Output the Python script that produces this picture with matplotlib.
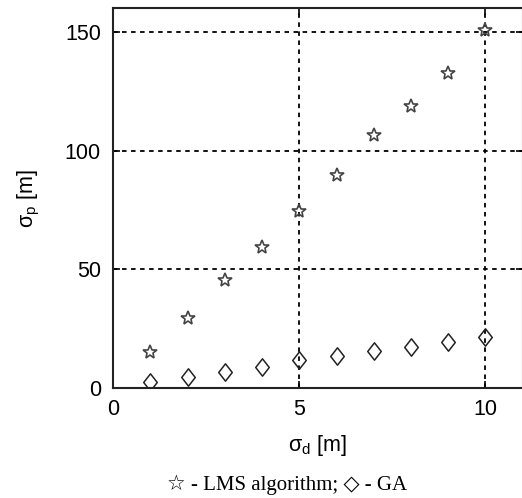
import matplotlib
matplotlib.use("Agg")
import matplotlib.pyplot as plt
from matplotlib.path import Path

sigma_d = [1, 2, 3, 4, 5, 6, 7, 8, 9, 10]
lms = [15.4, 29.5, 45.6, 59.4, 74.4, 89.6, 106.7, 118.9, 132.7, 150.9]
ga = [2.5, 4.9, 6.7, 9.1, 11.9, 13.6, 15.8, 17.5, 19.6, 21.7]
xticks = [0, 5, 10]
yticks = [0, 50, 100, 150]

plt.rcParams['mathtext.fontset'] = 'custom'
plt.rcParams['mathtext.rm'] = 'Liberation Sans'
plt.rcParams['mathtext.it'] = 'Liberation Sans'
plt.rcParams['font.family'] = ['Liberation Sans', 'DejaVu Sans']

fig = plt.figure(figsize=(5.22, 4.98), dpi=100)
ax = fig.add_axes([0.217, 0.2203, 0.784, 0.7636])

diamond = Path([(0, 1), (0.78, 0), (0, -1), (-0.78, 0), (0, 1)],
               [Path.MOVETO, Path.LINETO, Path.LINETO, Path.LINETO, Path.CLOSEPOLY])

ax.plot(sigma_d, lms, linestyle='none', marker='*', markersize=10,
        markerfacecolor='none', markeredgecolor='#444444', markeredgewidth=1.2, zorder=3)
ax.plot(sigma_d, ga, linestyle='none', marker=diamond, markersize=12.5,
        markerfacecolor='none', markeredgecolor='#222222', markeredgewidth=1.1, zorder=3)

ax.set_xlim(0, 11)
ax.set_ylim(0, 160)
ax.set_xticks(xticks)
ax.set_yticks(yticks)
ax.grid(True, color='black', linestyle=(0, (2.5, 2.5)), linewidth=1.3)
ax.tick_params(direction='in', length=5, width=1.2, labelsize=15.5, colors='black',
               top=True, right=True)
ax.tick_params(axis='y', pad=9)
ax.tick_params(axis='x', pad=8)
for s in ax.spines.values():
    s.set_linewidth(1.5)
    s.set_color('#222222')

ax.set_xlabel(r'$\mathregular{\sigma_d}$ [m]', fontsize=15.5, labelpad=9)
ax.set_ylabel(r'$\mathregular{\sigma_p}$ [m]', fontsize=15.5, labelpad=16)

fig.text(0.55, 0.026, '☆ - LMS algorithm; ◇ - GA', ha='center', va='center',
         fontsize=15, family=['Liberation Serif', 'DejaVu Sans', 'Noto Sans CJK SC'])

fig.savefig('out.png', dpi=100)
